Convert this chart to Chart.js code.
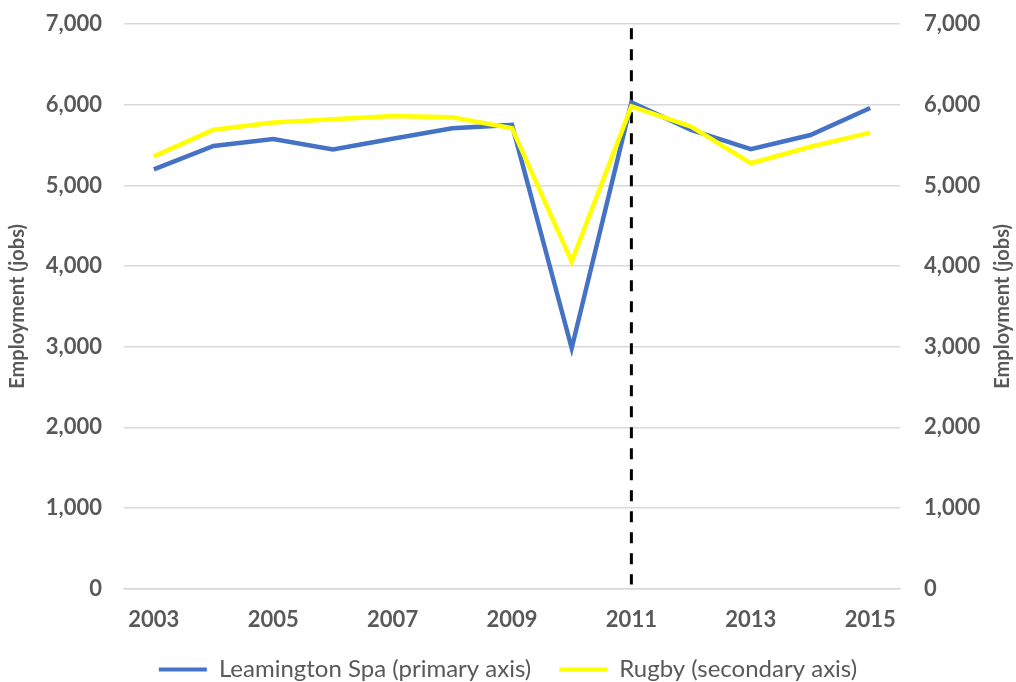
<!DOCTYPE html>
<html>
<head>
<meta charset="utf-8">
<script src="https://cdn.jsdelivr.net/npm/chart.js@4.4.0/dist/chart.umd.min.js"></script>
<style>
  html, body { margin: 0; padding: 0; background: #ffffff; }
  #wrap { width: 1016px; height: 682px; }
</style>
</head>
<body>
<div id="wrap"><canvas id="chart" width="1016" height="682"></canvas></div>
<script>
// Employment by year, two towns on separate (identically scaled) axes
const years = ['2003','2004','2005','2006','2007','2008','2009','2010','2011','2012','2013','2014','2015'];
const leamingtonSpa = [5200, 5490, 5575, 5445, 5580, 5710, 5750, 2980, 6030, 5690, 5450, 5625, 5960];
const rugby = [5360, 5690, 5780, 5820, 5860, 5845, 5710, 4055, 5980, 5730, 5275, 5480, 5655];
const markerYear = '2011';
const axisMin = 0, axisMax = 7000, axisStep = 1000;
const axisTitle = 'Employment (jobs)';

const FONT = 'Lato, "Open Sans", sans-serif';
const GREY = '#595959';

// Dashed vertical reference line at the marker year (behind the series)
const markerLine = {
  id: 'markerLine',
  beforeDatasetsDraw(chart) {
    const { ctx, chartArea, scales } = chart;
    const x = scales.x.getPixelForValue(years.indexOf(markerYear));
    ctx.save();
    ctx.strokeStyle = '#000000';
    ctx.lineWidth = 3;
    ctx.setLineDash([11, 10]);
    ctx.beginPath();
    ctx.moveTo(x, chartArea.top + 4);
    ctx.lineTo(x, chartArea.bottom - 4);
    ctx.stroke();
    ctx.restore();
  }
};

// Secondary-axis title, reading bottom-to-top like the primary one
const rightTitle = {
  id: 'rightTitle',
  afterDraw(chart) {
    const { ctx, chartArea, scales } = chart;
    const x = scales.y2.right - 9;
    const y = (chartArea.top + chartArea.bottom) / 2;
    ctx.save();
    ctx.translate(x, y);
    ctx.rotate(-Math.PI / 2);
    ctx.font = 'bold 20px ' + FONT;
    ctx.fillStyle = GREY;
    ctx.textAlign = 'center';
    ctx.textBaseline = 'middle';
    ctx.fillText(axisTitle, 0, 0);
    ctx.restore();
  }
};

const tickFont = { family: FONT, size: 22, weight: 'bold' };
const titleFont = { family: FONT, size: 20, weight: 'bold' };
const fmt = v => v.toLocaleString('en-GB');

new Chart(document.getElementById('chart'), {
  type: 'line',
  data: {
    labels: years,
    datasets: [
      {
        label: 'Leamington Spa (primary axis)',
        data: leamingtonSpa,
        yAxisID: 'y',
        borderColor: '#4472C4',
        backgroundColor: '#4472C4',
        borderWidth: 4.5,
        pointRadius: 0,
        tension: 0,
        order: 2
      },
      {
        label: 'Rugby (secondary axis)',
        data: rugby,
        yAxisID: 'y2',
        borderColor: '#FFFF00',
        backgroundColor: '#FFFF00',
        borderWidth: 4.5,
        pointRadius: 0,
        tension: 0,
        order: 1
      }
    ]
  },
  options: {
    responsive: false,
    animation: false,
    layout: { padding: { left: 4, right: 4, top: 0, bottom: -9.5 } },
    plugins: {
      legend: {
        position: 'bottom',
        labels: {
          font: { family: FONT, size: 24 },
          color: GREY,
          boxWidth: 48,
          boxHeight: 4,
          padding: 28,
          sort: (a, b) => a.datasetIndex - b.datasetIndex,
          generateLabels(chart) {
            return Chart.defaults.plugins.legend.labels.generateLabels(chart)
              .map(l => Object.assign(l, { lineWidth: 0 }));
          }
        }
      },
      tooltip: { enabled: false }
    },
    scales: {
      x: {
        offset: true,
        grid: { display: false, drawTicks: false },
        border: { display: true, color: '#d9d9d9', width: 1.5 },
        ticks: {
          font: tickFont,
          color: GREY,
          autoSkip: false,
          maxRotation: 0,
          padding: 18,
          callback: (v, i) => (i % 2 === 0 ? years[i] : '')
        },
        afterFit(scale) { scale.height = 41; }
      },
      y: {
        position: 'left',
        min: axisMin, max: axisMax,
        grid: { color: '#d9d9d9', lineWidth: 1.5, drawTicks: true, tickLength: 11, tickColor: 'rgba(0,0,0,0)' },
        border: { display: false },
        ticks: { stepSize: axisStep, font: tickFont, color: GREY, padding: 11, callback: fmt },
        title: { display: true, text: axisTitle, font: titleFont, color: GREY, padding: { top: 2, bottom: 12 } },
        afterFit(scale) { scale.width = 120; }
      },
      y2: {
        position: 'right',
        min: axisMin, max: axisMax,
        grid: { display: false, drawTicks: true, tickLength: 13, tickColor: 'rgba(0,0,0,0)' },
        border: { display: false },
        ticks: { stepSize: axisStep, font: tickFont, color: GREY, padding: 11, callback: fmt },
        afterFit(scale) { scale.width = 112; }
      }
    }
  },
  plugins: [markerLine, rightTitle]
});
</script>
</body>
</html>
